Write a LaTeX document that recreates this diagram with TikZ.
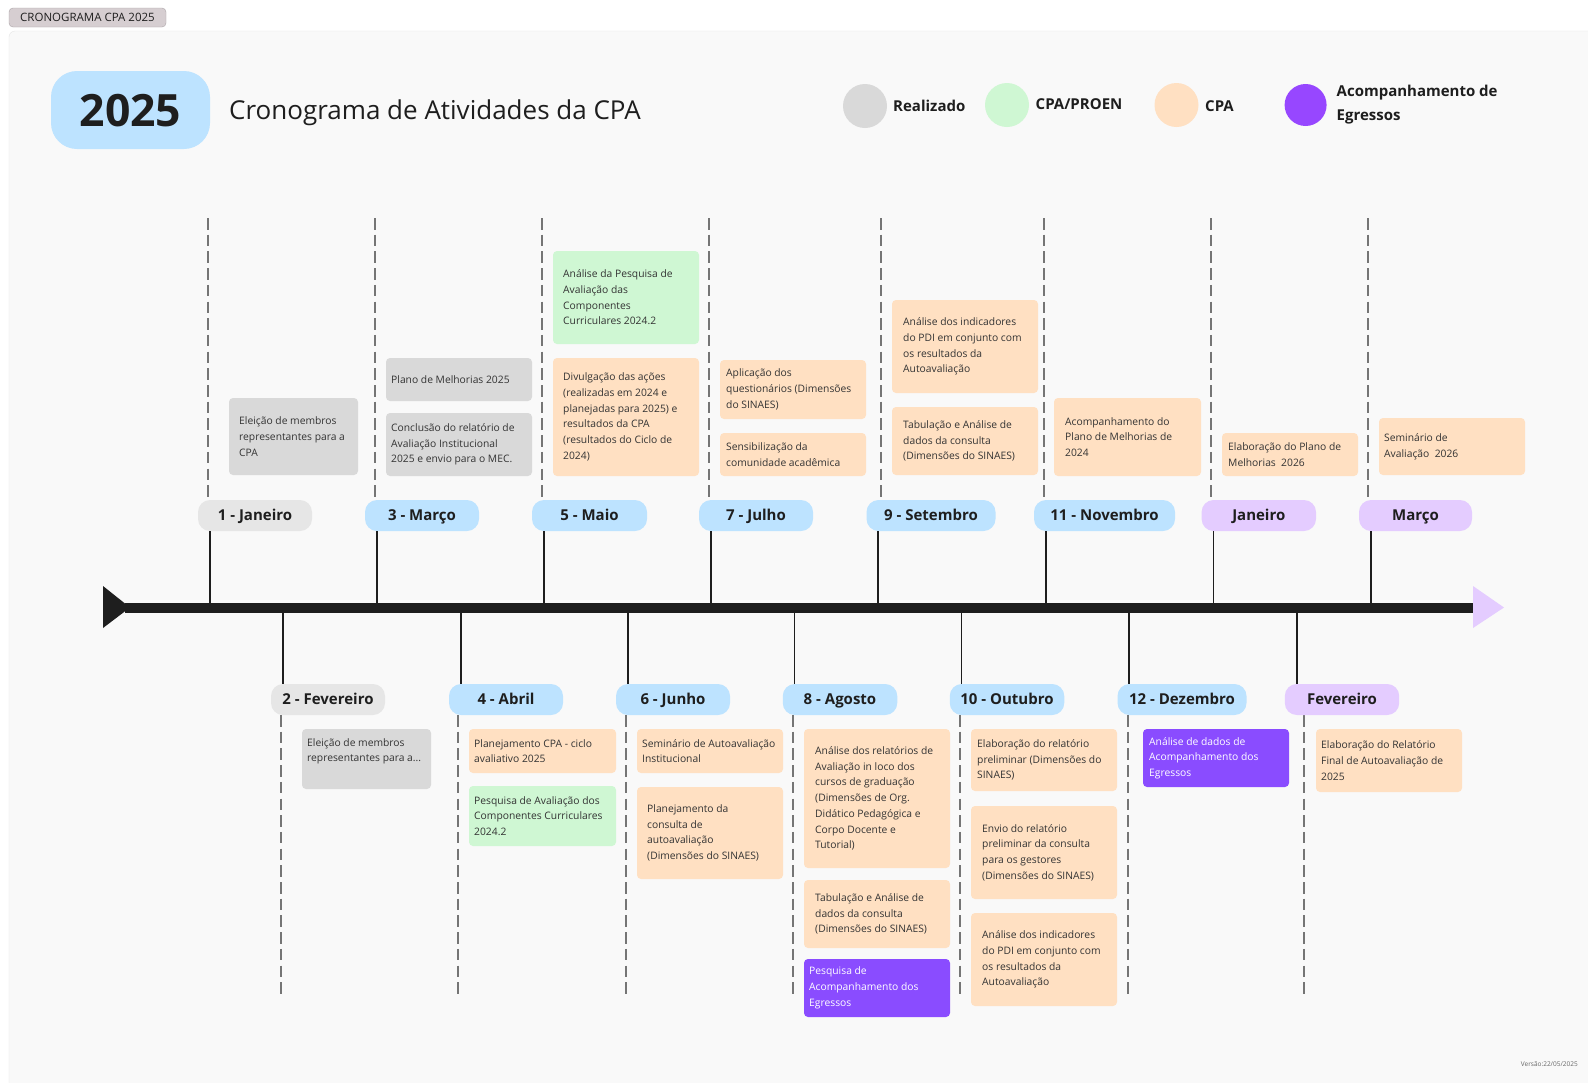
\documentclass[tikz,border=0pt]{standalone}
\usepackage{fontspec}
\setmainfont{Open Sans}
\usetikzlibrary{calc}
\definecolor{ink}{HTML}{1E1E1E}
\definecolor{cardink}{HTML}{333333}
\definecolor{panel}{HTML}{F9F9F9}
\definecolor{panelline}{HTML}{E6E6E6}
\definecolor{tagfill}{HTML}{D6CED1}
\definecolor{pblue}{HTML}{BDE3FF}
\definecolor{pgray}{HTML}{E6E6E6}
\definecolor{plilac}{HTML}{E4CCFF}
\definecolor{kgray}{HTML}{D9D9D9}
\definecolor{kpeach}{HTML}{FFE0C2}
\definecolor{kgreen}{HTML}{CFF7D3}
\definecolor{kpurp}{HTML}{8A4CFF}
\definecolor{lpurp}{HTML}{9747FF}
\definecolor{dashc}{HTML}{757575}
\tikzset{
  cardbox/.style={rounded corners=4pt, inner sep=0pt, outer sep=0pt},
  cardtext/.style={align=left, inner sep=0pt, font=\fontsize{10.3}{15.7}\selectfont},
  cgray/.style={fill=kgray}, cgray txt/.style={text=cardink},
  cpeach/.style={fill=kpeach}, cpeach txt/.style={text=cardink},
  cgreen/.style={fill=kgreen}, cgreen txt/.style={text=cardink},
  cpurp/.style={fill=kpurp}, cpurp txt/.style={text=white},
  pill/.style={rounded corners=12pt, minimum height=31pt, inner sep=0pt, text=ink,
    text height=10.7pt, text depth=0pt,
    font=\bfseries\fontsize{15}{15}\selectfont},
  guide/.style={draw=dashc, line width=2pt, dash pattern=on 11.5pt off 5.2pt},
  tick/.style={draw=ink, line width=1.8pt},
  legtext/.style={font=\bfseries\fontsize{15}{24}\selectfont, text=ink, align=left, inner sep=0pt},
}
\newcommand\card[8]{%
  \node[cardbox,#2,anchor=north west,minimum width={#5-#3},minimum height={#6-#4}] (#1) at (#3,#4) {};
  \node[cardtext,#2 txt,anchor=west] (#1t) at ([xshift=#7pt]#1.west) {#8};
}
\begin{document}
\begin{tikzpicture}[x=1pt,y=-1pt]
\useasboundingbox (0,0) rectangle (1588,1082);
\clip (0,0) rectangle (1588,1082);
\fill[white] (0,0) rectangle (1588,1082);
\draw[panelline, fill=panel, rounded corners=6pt] (9,31) rectangle (1610,1100);

% tag
\node[fill=tagfill, draw=tagfill!80!black, line width=0.4pt, rounded corners=4pt, minimum width=157pt, minimum height=19pt, inner sep=0pt, font=\fontsize{11.5}{12}\selectfont, text=ink] (tag) at (87.5,17.5) {CRONOGRAMA CPA 2025};

% title
\node[fill=pblue, rounded corners=26pt, minimum width=159pt, minimum height=78pt, inner sep=0pt, text height=32pt, text depth=0pt, font=\bfseries\fontsize{44.5}{44}\selectfont, text=ink] (yr) at (130.5,110) {2025};
\node[anchor=base west, inner sep=0pt, font=\fontsize{26}{26}\selectfont, text=ink] (ttl) at (229,119.5) {Cronograma de Atividades da CPA};

% legend
\node[circle, fill=kgray, minimum size=44pt, inner sep=0pt] (lg1) at (865,106) {};
\node[legtext, anchor=west] (lg1t) at (893,106) {Realizado};
\node[circle, fill=kgreen, minimum size=44pt, inner sep=0pt] (lg2) at (1007,105) {};
\node[legtext, anchor=west] (lg2t) at (1035.5,104) {CPA/PROEN};
\node[circle, fill=kpeach, minimum size=44pt, inner sep=0pt] (lg3) at (1176.5,105) {};
\node[legtext, anchor=west] (lg3t) at (1205,106) {CPA};
\node[circle, fill=lpurp, minimum size=42pt, inner sep=0pt] (lg4) at (1305.6,105) {};
\node[legtext, anchor=west] (lg4t) at (1336.5,105) {Acompanhamento de\\Egressos};

% guides
\foreach \x in {207.6,375,542,709,881,1043.5,1211,1368}
  \draw[guide] (\x,218) -- (\x,500);
\foreach \x in {281,458,625.5,793,960,1128,1304}
  \draw[guide] (\x,715) -- (\x,998);

% axis coordinates
\coordinate (ax) at (0,607.5);
\coordinate (tl0) at (125,607.5);
\coordinate (tl1) at (1473,607.5);

% month pills upper
\node[pill, fill=pgray, minimum width=114pt] (m1) at (255,515.5) {1 - Janeiro};
\node[pill, fill=pblue, minimum width=114pt] (m3) at (422,515.5) {3 - Março};
\node[pill, fill=pblue, minimum width=115pt] (m5) at (589.5,515.5) {5 - Maio};
\node[pill, fill=pblue, minimum width=114pt] (m7) at (756,515.5) {7 - Julho};
\node[pill, fill=pblue, minimum width=129pt] (m9) at (931,515.5) {9 - Setembro};
\node[pill, fill=pblue, minimum width=141pt] (m11) at (1104.5,515.5) {11 - Novembro};
\node[pill, fill=plilac, minimum width=114.4pt] (n1) at (1258.8,515.5) {Janeiro};
\node[pill, fill=plilac, minimum width=113pt] (n3) at (1415.5,515.5) {Março};
% month pills lower
\node[pill, fill=pgray, minimum width=114pt] (m2) at (328,699.5) {2 - Fevereiro};
\node[pill, fill=pblue, minimum width=114pt] (m4) at (506,699.5) {4 - Abril};
\node[pill, fill=pblue, minimum width=114pt] (m6) at (673,699.5) {6 - Junho};
\node[pill, fill=pblue, minimum width=114.5pt] (m8) at (840,699.5) {8 - Agosto};
\node[pill, fill=pblue, minimum width=114.5pt] (m10) at (1007,699.5) {10 - Outubro};
\node[pill, fill=pblue, minimum width=129pt] (m12) at (1182,699.5) {12 - Dezembro};
\node[pill, fill=plilac, minimum width=114.4pt] (n2) at (1342,699.5) {Fevereiro};

% ticks
\foreach \n in {m1,m3,m5,m7,m9,m11,n1,n3}{
  \coordinate (k\n) at ([xshift=12pt]\n.south west);
  \draw[tick] (k\n) -- (k\n |- ax);
}
\foreach \n in {m2,m4,m6,m8,m10,m12,n2}{
  \coordinate (k\n) at ([xshift=12pt]\n.north west);
  \draw[tick] (k\n) -- (k\n |- ax);
}

% timeline
\draw[ink, line width=10pt] (tl0) -- (tl1);
\fill[ink] (103,586) -- (130,607.5) -- (103,628) -- cycle;
\fill[plilac] (1473,586) -- (1504,607.5) -- (1473,628) -- cycle;

% upper cards
\card{t1}{cgray}{229}{398}{358}{475}{10}{Eleição de membros\\representantes para a\\CPA}
\card{t2}{cgray}{386}{358}{532}{401}{5}{Plano de Melhorias 2025}
\card{t3}{cgray}{386}{413}{532}{476}{5}{Conclusão do relatório de\\Avaliação Institucional\\2025 e envio para o MEC.}
\card{t4}{cgreen}{553}{251}{699}{344}{10}{Análise da Pesquisa de\\Avaliação das\\Componentes\\Curriculares 2024.2}
\card{t5}{cpeach}{553}{358}{699}{476}{10}{Divulgação das ações\\(realizadas em 2024 e\\planejadas para 2025) e\\resultados da CPA\\(resultados do Ciclo de\\2024)}
\card{t6}{cpeach}{720}{360}{866}{419}{6}{Aplicação dos\\questionários (Dimensões\\do SINAES)}
\card{t7}{cpeach}{720}{433}{866}{476}{6}{Sensibilização da\\comunidade acadêmica}
\card{t8}{cpeach}{892}{300}{1038}{393}{11}{Análise dos indicadores\\do PDI em conjunto com\\os resultados da\\Autoavaliação}
\card{t9}{cpeach}{892}{407}{1038}{475}{11}{Tabulação e Análise de\\dados da consulta\\(Dimensões do SINAES)}
\card{t10}{cpeach}{1054}{398}{1201}{476}{11}{Acompanhamento do\\Plano de Melhorias de\\2024}
\card{t11}{cpeach}{1222}{433}{1358}{476}{6}{Elaboração do Plano de\\Melhorias~ 2026}
\card{t12}{cpeach}{1379}{418}{1525}{475}{5}{Seminário de\\Avaliação~ 2026}

% lower cards
\node[cardbox,cgray,anchor=north west,minimum width=129pt,minimum height=60pt] (b1) at (302,729) {};
\node[cardtext,cgray txt,anchor=north west] (b1t) at ([xshift=5pt,yshift=-9pt]b1.north west) {Eleição de membros\\representantes para a...};
\card{b2}{cpeach}{469}{729}{616}{773}{5}{Planejamento CPA - ciclo\\avaliativo 2025}
\card{b3}{cgreen}{469}{786}{616}{846}{5}{Pesquisa de Avaliação dos\\Componentes Curriculares\\2024.2}
\card{b4}{cpeach}{637}{729}{783}{773}{5}{Seminário de Autoavaliação\\Institucional}
\card{b5}{cpeach}{637}{787}{783}{879}{10}{Planejamento da\\consulta de\\autoavaliação\\(Dimensões do SINAES)}
\card{b6}{cpeach}{804}{729}{950}{868}{11}{Análise dos relatórios de\\Avaliação in loco dos\\cursos de graduação\\(Dimensões de Org.\\Didático Pedagógica e\\Corpo Docente e\\Tutorial)}
\card{b7}{cpeach}{804}{880}{950}{948}{11}{Tabulação e Análise de\\dados da consulta\\(Dimensões do SINAES)}
\card{b8}{cpurp}{804}{959}{950}{1017}{5}{Pesquisa de\\Acompanhamento dos\\Egressos}
\card{b9}{cpeach}{971}{729}{1117}{791}{6}{Elaboração do relatório\\preliminar (Dimensões do\\SINAES)}
\card{b10}{cpeach}{971}{806}{1117}{899}{11}{Envio do relatório\\preliminar da consulta\\para os gestores\\(Dimensões do SINAES)}
\card{b11}{cpeach}{971}{913}{1117}{1006}{11}{Análise dos indicadores\\do PDI em conjunto com\\os resultados da\\Autoavaliação}
\card{b12}{cpurp}{1143}{729}{1289}{787}{6}{Análise de dados de\\Acompanhamento dos\\Egressos}
\card{b13}{cpeach}{1316}{729}{1462}{792}{5}{Elaboração do Relatório\\Final de Autoavaliação de\\2025}

% version
\node[anchor=east, inner sep=0pt, font=\fontsize{6.5}{7}\selectfont, text=black!60] (ver) at (1578,1064) {Versão:22/05/2025};
\end{tikzpicture}
\end{document}
